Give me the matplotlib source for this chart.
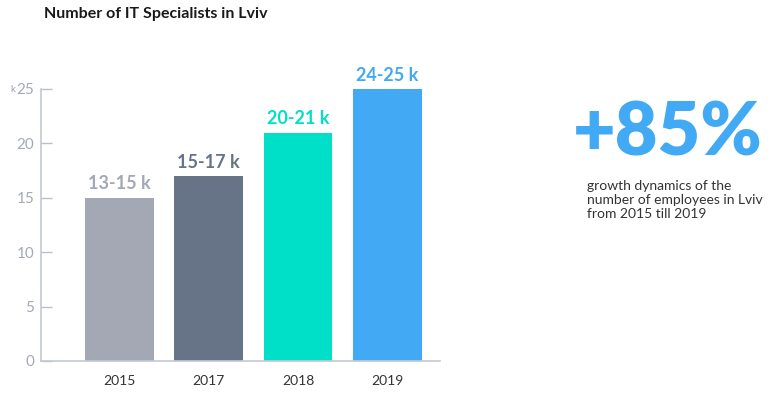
import matplotlib.pyplot as plt
import numpy as np

years = ['2015', '2017', '2018', '2019']
values = [15, 17, 21, 25]
labels = ['13-15 k', '15-17 k', '20-21 k', '24-25 k']
colors = ['#a3a8b4', '#677487', '#00e0c8', '#42a9f5']

plt.rcParams['font.family'] = 'Lato'

fig = plt.figure(figsize=(7.81, 3.97), dpi=100)
ax = fig.add_axes([41 / 781, 1 - 361 / 397, (440 - 41) / 781, (361 - 89) / 397])

x = np.arange(len(years))
ax.bar(x, values, width=0.77, color=colors)
for xi, v, lab, c in zip(x, values, labels, colors):
    ax.text(xi, v + 0.5, lab, ha='center', va='bottom', fontsize=13,
            fontweight='bold', color=c)

ax.set_xlim(-0.88, 3.59)
ax.set_ylim(0, 25)
ax.set_xticks(x)
ax.set_xticklabels(years, fontsize=10, color='#333333')
ax.set_yticks([0, 5, 10, 15, 20, 25])
ax.tick_params(axis='x', length=0, pad=10)
ax.tick_params(axis='y', direction='in', length=8, width=1, color='#b8c0cc',
               labelsize=11, labelcolor='#a3aab5', pad=5)
for s in ['top', 'right']:
    ax.spines[s].set_visible(False)
for s in ['left', 'bottom']:
    ax.spines[s].set_color('#c4cad3')
    ax.spines[s].set_linewidth(1.2)

fig.text(10 / 781, 1 - 90 / 397, 'k', fontsize=7, color='#9aa2ad', va='center')
fig.text(44 / 781, 1 - 14 / 397, 'Number of IT Specialists in Lviv', fontsize=11.5,
         fontweight='bold', color='#1a1a1a', va='center')

fig.text(573 / 781, 1 - 135 / 397, '+85%', fontsize=53, fontweight='heavy',
         color='#42a9f5', va='center')
fig.text(587 / 781, 1 - 200 / 397,
         'growth dynamics of the\nnumber of employees in Lviv\nfrom 2015 till 2019',
         fontsize=10, color='#333333', va='center', linespacing=1.15)

fig.savefig('out.png', dpi=100)
